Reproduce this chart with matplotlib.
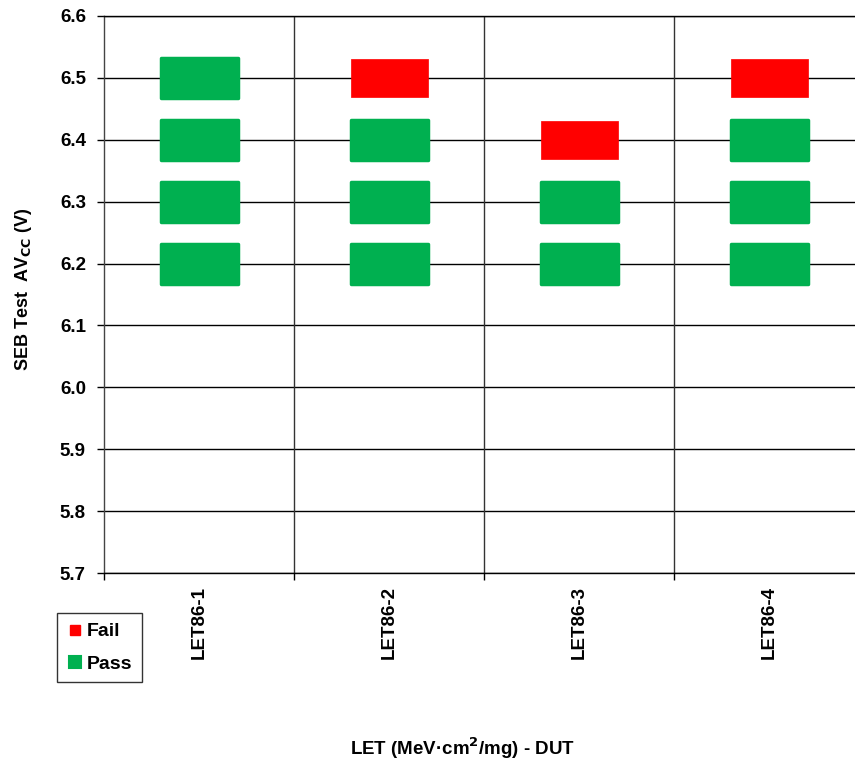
import matplotlib
matplotlib.use("Agg")
import matplotlib.pyplot as plt
from matplotlib.path import Path
import numpy as np

plt.rcParams['font.family'] = ['Liberation Sans', 'DejaVu Sans']
plt.rcParams['font.weight'] = 'bold'

categories = ["LET86-1", "LET86-2", "LET86-3", "LET86-4"]
pass_cat = [0, 0, 0, 0, 1, 1, 1, 2, 2, 3, 3, 3]
pass_v = [6.2, 6.3, 6.4, 6.5, 6.2, 6.3, 6.4, 6.2, 6.3, 6.2, 6.3, 6.4]
fail_cat = [1, 2, 3]
fail_v = [6.5, 6.4, 6.5]
yticks = [5.7, 5.8, 5.9, 6.0, 6.1, 6.2, 6.3, 6.4, 6.5, 6.6]

W, H = 855, 765
fig = plt.figure(figsize=(W / 100, H / 100), dpi=100)
left, right, top, bottom = 104, 864, 16, 573
ax = fig.add_axes([left / W, 1 - bottom / H, (right - left) / W, (bottom - top) / H])

green = '#00B050'
red = '#FF0000'

def rect_path(w, h):
    return Path([(-w / 2, -h / 2), (w / 2, -h / 2), (w / 2, h / 2), (-w / 2, h / 2), (-w / 2, -h / 2)],
                [Path.MOVETO, Path.LINETO, Path.LINETO, Path.LINETO, Path.CLOSEPOLY])

gpath = rect_path(77, 39)
rpath = rect_path(77, 38)
ms_g = 77 * 0.72
ms_r = 77 * 0.72

px = np.array(pass_cat) + 0.5
fx = np.array(fail_cat) + 0.5
ax.scatter(px, pass_v, marker=gpath, s=ms_g ** 2, facecolor=green, edgecolor=green,
           linewidth=2.5, joinstyle='round', zorder=3, label='Pass')
ax.scatter(fx, fail_v, marker=rpath, s=ms_r ** 2, facecolor=red, edgecolor=red,
           linewidth=0.5, zorder=3, label='Fail')

ax.set_xlim(0, 4)
ax.set_ylim(5.7, 6.6)
ax.set_yticks(yticks)
ax.set_yticklabels([f"{v:.1f}" for v in yticks], fontsize=13.5, fontweight='bold')
ax.set_xticks([0, 1, 2, 3, 4])
ax.set_xticklabels([])
ax.set_xticks([0.5, 1.5, 2.5, 3.5], minor=True)
ax.set_xticklabels(categories, minor=True, rotation=90, fontsize=13.5, fontweight='bold', va='top')
ax.tick_params(axis='x', which='minor', length=0, pad=9.5)
ax.tick_params(axis='x', which='major', length=5, width=1, direction='out')
ax.tick_params(axis='y', length=5, width=1, direction='out', pad=8)

for v in yticks:
    ax.axhline(v, color='black', linewidth=1, zorder=1)
for xv in [1, 2, 3]:
    ax.axvline(xv, color='#333333', linewidth=1, zorder=1)
for s in ax.spines.values():
    s.set_linewidth(1)
ax.spines['left'].set_color('#444444')

fig.text(23 / W, 1 - 289 / H, "SEB Test  AV$_{\\mathbf{CC}}$ (V)", rotation=90, ha='center', va='center',
         fontsize=13, fontweight='bold')
fig.text(463 / W, 1 - 748 / H, "LET (MeV·cm$^{\\mathbf{2}}$/mg) - DUT", ha='center', va='center',
         fontsize=13.5, fontweight='bold')

handles = [
    plt.Line2D([], [], linestyle='none', marker='s', markersize=7, markerfacecolor=red, markeredgecolor=red),
    plt.Line2D([], [], linestyle='none', marker='s', markersize=8, markerfacecolor=green, markeredgecolor=green,
               markeredgewidth=1.5),
]
leg = fig.legend(handles, ['Fail', 'Pass'], loc='upper left', bbox_to_anchor=(57 / W, 1 - 613 / H),
                 fontsize=14, frameon=True, fancybox=False, edgecolor='black', handlelength=0.8,
                 handletextpad=0.25, borderpad=0.5, labelspacing=0.75, borderaxespad=0)
leg.get_frame().set_linewidth(1)
for t in leg.get_texts():
    t.set_fontweight('bold')
for h in leg.legend_handles:
    h.set_solid_joinstyle('round')

fig.savefig('out.png', dpi=100)
